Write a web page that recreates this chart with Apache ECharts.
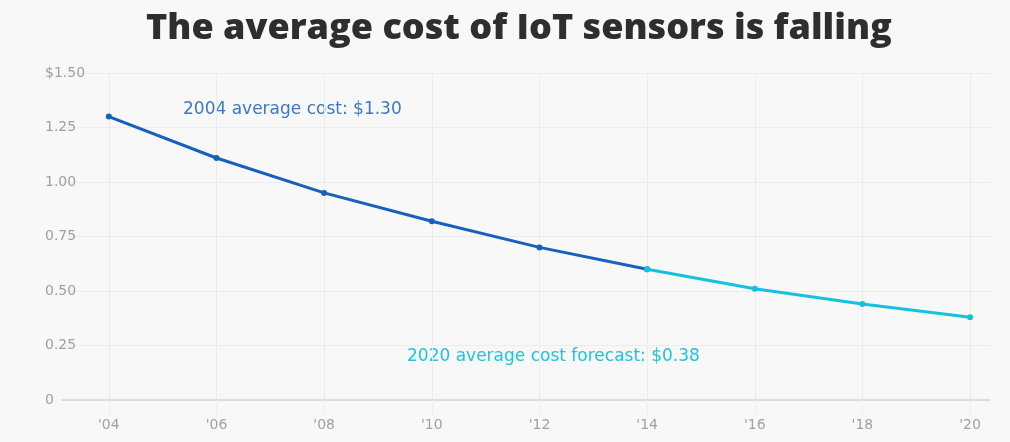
<!DOCTYPE html>
<html>
<head>
<meta charset="utf-8">
<script src="https://cdn.jsdelivr.net/npm/echarts@6/dist/echarts.min.js"></script>
<style>
html,body{margin:0;padding:0;background:#f8f8f8;}
#c{width:1010px;height:442px;}
</style>
</head>
<body>
<div id="c"></div>
<script>
var years = [2004, 2006, 2008, 2010, 2012, 2014, 2016, 2018, 2020];
var cost = [1.30, 1.11, 0.95, 0.82, 0.70, 0.60, 0.51, 0.44, 0.38];
var forecastStart = 2014;
var yTicks = [0, 0.25, 0.5, 0.75, 1.0, 1.25, 1.5];
var titleText = 'The average cost of IoT sensors is falling';
var note1 = '2004 average cost: $1.30';
var note2 = '2020 average cost forecast: $0.38';

var hist = [], fore = [];
years.forEach(function (y, i) {
  if (y <= forecastStart) hist.push([y, cost[i]]);
  if (y >= forecastStart) fore.push([y, cost[i]]);
});

var chart = echarts.init(document.getElementById('c'));
chart.setOption({
  backgroundColor: '#f8f8f8',
  animation: false,
  title: {
    text: titleText,
    left: 146,
    top: 11,
    padding: 0,
    textStyle: {fontFamily: 'Open Sans', fontWeight: 800, fontSize: 36, color: '#2e2e2e'}
  },
  grid: {left: 62, right: 20, top: 73, bottom: 42},
  xAxis: {
    type: 'value',
    min: 2003.13,
    max: 2020.37,
    axisLine: {show: true, lineStyle: {color: '#d4d4d4', width: 1.5}},
    axisTick: {show: true, customValues: years, length: 14, lineStyle: {color: '#eeeeee'}},
    axisLabel: {
      customValues: years,
      margin: 18,
      color: '#a0a0a0',
      fontSize: 14,
      fontFamily: 'DejaVu Sans',
      formatter: function (v) { return "'" + String(v).slice(2); }
    },
    splitLine: {show: true, lineStyle: {color: '#ececec'}}
  },
  yAxis: {
    type: 'value',
    min: 0,
    max: 1.5,
    interval: 0.25,
    axisLine: {show: false},
    axisTick: {show: false},
    axisLabel: {
      margin: 17,
      align: 'left',
      color: '#a0a0a0',
      fontSize: 14,
      fontFamily: 'DejaVu Sans',
      formatter: function (v) {
        if (v === 0) return '0';
        var s = v.toFixed(2);
        return v === yTicks[yTicks.length - 1] ? '$' + s : s;
      }
    },
    splitLine: {show: true, lineStyle: {color: '#ececec'}}
  },
  graphic: [
    {type: 'text', left: 183, top: 101, style: {text: note1, fill: '#3d78c4', fontFamily: 'DejaVu Sans', fontSize: 17}},
    {type: 'text', left: 407, top: 348, style: {text: note2, fill: '#1ec3e0', fontFamily: 'DejaVu Sans', fontSize: 17}}
  ],
  series: [
    {
      type: 'line', data: hist, symbol: 'circle', symbolSize: 6,
      lineStyle: {color: '#1660be', width: 3}, itemStyle: {color: '#1660be'}
    },
    {
      type: 'line', data: fore, symbol: 'circle', symbolSize: 6,
      lineStyle: {color: '#12c2e0', width: 3}, itemStyle: {color: '#12c2e0'}
    }
  ]
});
</script>
</body>
</html>
